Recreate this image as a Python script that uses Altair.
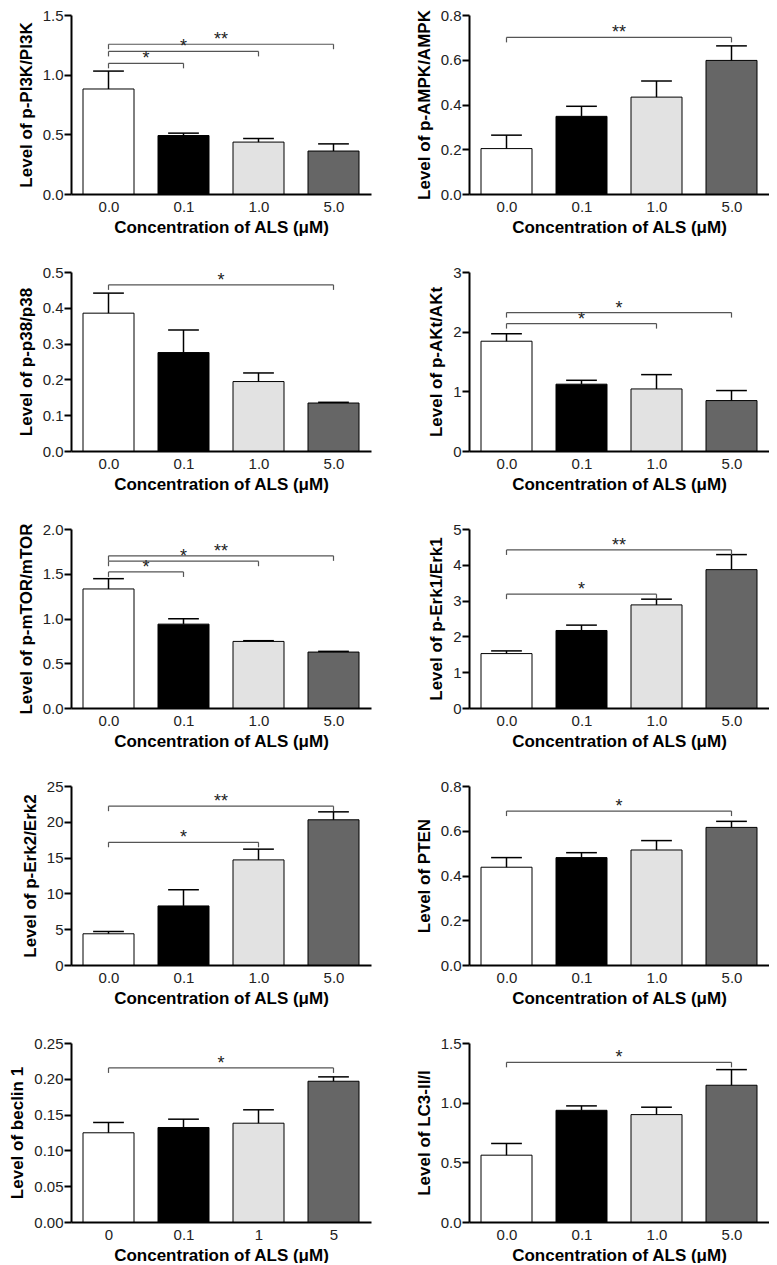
import json
import altair as alt
import pandas as pd

# ---------------- data ----------------
conc_labels = ["0.0", "0.1", "1.0", "5.0"]
conc_labels_beclin = ["0", "0.1", "1", "5"]
x_title = "Concentration of ALS (μM)"

pi3k_mean = [0.88, 0.49, 0.435, 0.36]
pi3k_sem = [0.15, 0.02, 0.03, 0.06]
ampk_mean = [0.203, 0.347, 0.433, 0.597]
ampk_sem = [0.06, 0.045, 0.072, 0.065]
p38_mean = [0.385, 0.275, 0.194, 0.134]
p38_sem = [0.056, 0.063, 0.024, 0.002]
akt_mean = [1.84, 1.12, 1.04, 0.845]
akt_sem = [0.125, 0.065, 0.24, 0.168]
mtor_mean = [1.33, 0.937, 0.744, 0.625]
mtor_sem = [0.115, 0.06, 0.008, 0.008]
erk1_mean = [1.52, 2.165, 2.88, 3.865]
erk1_sem = [0.075, 0.15, 0.16, 0.42]
erk2_mean = [4.36, 8.25, 14.68, 20.28]
erk2_sem = [0.32, 2.26, 1.5, 1.11]
pten_mean = [0.437, 0.48, 0.514, 0.615]
pten_sem = [0.043, 0.022, 0.042, 0.027]
beclin_mean = [0.1246, 0.132, 0.138, 0.1966]
beclin_sem = [0.0144, 0.0116, 0.0187, 0.0061]
lc3_mean = [0.56, 0.936, 0.90, 1.146]
lc3_sem = [0.098, 0.037, 0.062, 0.131]

# significance brackets: (from group, to group, stars, height)
pi3k_sig = [(0, 3, "**", 1.255), (0, 2, "*", 1.195), (0, 1, "*", 1.095)]
ampk_sig = [(0, 3, "**", 0.70)]
p38_sig = [(0, 3, "*", 0.464)]
akt_sig = [(0, 3, "*", 2.32), (0, 2, "*", 2.135)]
mtor_sig = [(0, 3, "**", 1.70), (0, 2, "*", 1.64), (0, 1, "*", 1.52)]
erk1_sig = [(0, 3, "**", 4.415), (0, 2, "*", 3.18)]
erk2_sig = [(0, 3, "**", 22.18), (0, 2, "*", 17.14)]
pten_sig = [(0, 3, "*", 0.688)]
beclin_sig = [(0, 3, "*", 0.2152)]
lc3_sig = [(0, 3, "*", 1.338)]

# axis ticks
pi3k_ticks = [0, 0.5, 1.0, 1.5]
ampk_ticks = [0, 0.2, 0.4, 0.6, 0.8]
p38_ticks = [0, 0.1, 0.2, 0.3, 0.4, 0.5]
akt_ticks = [0, 1, 2, 3]
mtor_ticks = [0, 0.5, 1.0, 1.5, 2.0]
erk1_ticks = [0, 1, 2, 3, 4, 5]
erk2_ticks = [0, 5, 10, 15, 20, 25]
pten_ticks = [0, 0.2, 0.4, 0.6, 0.8]
beclin_ticks = [0, 0.05, 0.10, 0.15, 0.20, 0.25]
lc3_ticks = [0, 0.5, 1.0, 1.5]

# ---------------- style ----------------
BAR_FILLS = ["#ffffff", "#000000", "#e2e2e2", "#666666"]
PW, PH = 300, 179
HALF = 0.34   # half bar width in group units
CAP = 0.205   # half cap width in group units


def panel(ytitle, labels, means, sems, ticks, fmt, sig):
    idx = list(range(len(labels)))
    df = pd.DataFrame({"i": idx, "label": labels, "mean": means, "sem": sems})
    xs = alt.Scale(domain=[-0.5, len(labels) - 0.5], nice=False, zero=False)
    ys = alt.Scale(domain=[ticks[0], ticks[-1]], nice=False)
    xaxis = alt.Axis(values=idx, labelExpr=f"{json.dumps(labels)}[datum.value]",
                     title=x_title)
    yaxis = alt.Axis(values=ticks, format=fmt, title=ytitle)

    def X(f):
        return alt.X(f, scale=xs, axis=xaxis)

    def Y(f):
        return alt.Y(f, scale=ys, axis=yaxis)

    base = alt.Chart(df).transform_calculate(
        lo=f"datum.i - {HALF}", hi=f"datum.i + {HALF}",
        top="datum.mean + datum.sem",
        cl=f"datum.i - {CAP}", cr=f"datum.i + {CAP}")

    bars = base.mark_bar(stroke="black", strokeWidth=1).encode(
        x=X("lo:Q"), x2="hi:Q",
        y=Y("mean:Q"), y2=alt.datum(0),
        fill=alt.Fill("i:O", scale=alt.Scale(domain=idx, range=BAR_FILLS), legend=None),
    )
    stem = base.mark_rule(color="black", strokeWidth=1.5).encode(
        x=X("i:Q"), y=Y("mean:Q"), y2="top:Q")
    cap = base.mark_rule(color="black", strokeWidth=1.5).encode(
        x=X("cl:Q"), x2="cr:Q", y=Y("top:Q"))

    sdf = pd.DataFrame({"a": [s[0] for s in sig], "b": [s[1] for s in sig],
                        "star": [s[2] for s in sig], "h": [s[3] for s in sig]})
    sbase = alt.Chart(sdf)
    line = sbase.mark_rule(color="#555555", strokeWidth=1.2).encode(
        x=X("a:Q"), x2="b:Q", y=Y("h:Q"))
    legs = sbase.transform_fold(["a", "b"], as_=["end", "xpos"]).mark_rule(
        color="#555555", strokeWidth=1.2, y2Offset=5).encode(
        x=X("xpos:Q"), y=Y("h:Q"), y2="h:Q")
    stars = sbase.transform_calculate(mid="(datum.a + datum.b) / 2").mark_text(
        font="Liberation Sans", fontSize=18, baseline="alphabetic", dy=1,
        color="#222222").encode(
        x=X("mid:Q"), y=Y("h:Q"), text="star:N")

    return alt.layer(bars, stem, cap, line, legs, stars).properties(width=PW, height=PH)


panels = [
    panel("Level of p-PI3K/PI3K", conc_labels, pi3k_mean, pi3k_sem, pi3k_ticks, ".1f", pi3k_sig),
    panel("Level of p-AMPK/AMPK", conc_labels, ampk_mean, ampk_sem, ampk_ticks, ".1f", ampk_sig),
    panel("Level of p-p38/p38", conc_labels, p38_mean, p38_sem, p38_ticks, ".1f", p38_sig),
    panel("Level of p-AKt/AKt", conc_labels, akt_mean, akt_sem, akt_ticks, "d", akt_sig),
    panel("Level of p-mTOR/mTOR", conc_labels, mtor_mean, mtor_sem, mtor_ticks, ".1f", mtor_sig),
    panel("Level of p-Erk1/Erk1", conc_labels, erk1_mean, erk1_sem, erk1_ticks, "d", erk1_sig),
    panel("Level of p-Erk2/Erk2", conc_labels, erk2_mean, erk2_sem, erk2_ticks, "d", erk2_sig),
    panel("Level of PTEN", conc_labels, pten_mean, pten_sem, pten_ticks, ".1f", pten_sig),
    panel("Level of beclin 1", conc_labels_beclin, beclin_mean, beclin_sem, beclin_ticks, ".2f", beclin_sig),
    panel("Level of LC3-II/I", conc_labels, lc3_mean, lc3_sem, lc3_ticks, ".1f", lc3_sig),
]

chart = alt.concat(
    *panels, columns=2, spacing={"row": 78, "column": 98}, bounds="flush"
).properties(
    padding={"left": 0, "top": 0, "right": 0, "bottom": 0}
).configure_view(stroke=None).configure_axis(
    domainColor="black", domainWidth=2, tickColor="black", tickWidth=2, tickSize=7,
    labelPadding=1, labelFont="Liberation Sans", labelFontSize=15, labelColor="#222222",
    titleFont="Liberation Sans", titleFontSize=17, titleFontWeight="bold", titleColor="black",
    grid=False, labelFlush=False, labelOverlap=False,
).configure_axisX(
    ticks=False, labelPadding=5, titlePadding=5,
).configure_axisY(
    titlePadding=7,
)

chart.save("out.html", embed_options={"renderer": "svg", "actions": False})
